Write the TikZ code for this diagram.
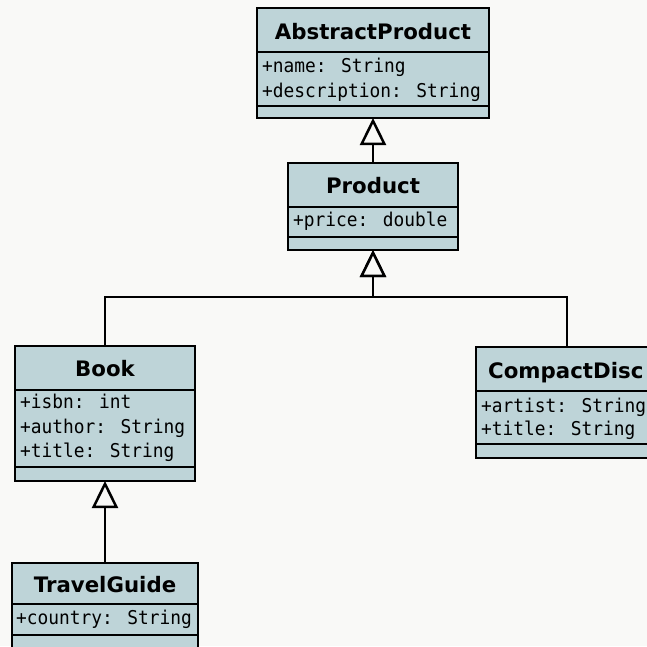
\documentclass[tikz,border=0pt]{standalone}
\usepackage{fontspec}
\setmainfont{DejaVu Sans}
\newfontfamily\attrfont[FakeStretch=0.94]{DejaVu Sans Mono}
\usetikzlibrary{arrows.meta}
\definecolor{classfill}{HTML}{BED4D8}
\definecolor{canvas}{HTML}{F9F9F7}
\tikzset{
  classbox/.style={draw=black, fill=classfill, line width=2.9pt, inner sep=0pt, outer sep=0pt, anchor=north west},
  compsep/.style={draw=black, line width=2.9pt},
  classtitle/.style={font=\fontsize{21.3}{24}\selectfont\bfseries, inner sep=0pt, anchor=base},
  attr/.style={font=\attrfont\fontsize{19}{22}\selectfont, inner sep=0pt, anchor=base west},
  inherit/.style={draw=black, line width=2.5pt, -{Triangle[open, length=27pt, width=26pt, fill=canvas]}},
}
\begin{document}
\begin{tikzpicture}[x=1pt, y=-1pt]
  \useasboundingbox (0,0) rectangle (647,646);
  \fill[canvas] (0,0) rectangle (647,646);
  \clip (0,0) rectangle (647,646);

  % AbstractProduct
  \node[classbox, minimum width=232pt, minimum height=110pt] (abs) at (257,8) {};
  \draw[compsep] (abs.west |- 0,52) -- (abs.east |- 0,52);
  \draw[compsep] (abs.west |- 0,106) -- (abs.east |- 0,106);
  \node[classtitle] (absT) at (373,39) {AbstractProduct};
  \node[attr] (absA1) at (262,72) {+name: String};
  \node[attr] (absA2) at (262,97) {+description: String};

  % Product
  \node[classbox, minimum width=170pt, minimum height=87pt] (prod) at (288,163) {};
  \draw[compsep] (prod.west |- 0,207) -- (prod.east |- 0,207);
  \draw[compsep] (prod.west |- 0,237) -- (prod.east |- 0,237);
  \node[classtitle] (prodT) at (373,193) {Product};
  \node[attr] (prodA1) at (293,226) {+price: double};

  % Book
  \node[classbox, minimum width=180pt, minimum height=135pt] (book) at (15,346) {};
  \draw[compsep] (book.west |- 0,390) -- (book.east |- 0,390);
  \draw[compsep] (book.west |- 0,467) -- (book.east |- 0,467);
  \node[classtitle] (bookT) at (105,376) {Book};
  \node[attr] (bookA1) at (20,408) {+isbn: int};
  \node[attr] (bookA2) at (20,433) {+author: String};
  \node[attr] (bookA3) at (20,457) {+title: String};

  % CompactDisc
  \node[classbox, minimum width=200pt, minimum height=111pt] (cd) at (476,347) {};
  \draw[compsep] (cd.west |- 0,391) -- (cd.east |- 0,391);
  \draw[compsep] (cd.west |- 0,444) -- (cd.east |- 0,444);
  \node[classtitle, anchor=base west] (cdT) at (488,378) {CompactDisc};
  \node[attr] (cdA1) at (481,412) {+artist: String};
  \node[attr] (cdA2) at (481,435) {+title: String};

  % TravelGuide
  \node[classbox, minimum width=186pt, minimum height=110pt] (tg) at (12,563) {};
  \draw[compsep] (tg.west |- 0,604) -- (tg.east |- 0,604);
  \draw[compsep] (tg.west |- 0,635) -- (tg.east |- 0,635);
  \node[classtitle] (tgT) at (105,592) {TravelGuide};
  \node[attr] (tgA1) at (16,624) {+country: String};

  % Generalisations
  \coordinate (junction) at (373,297);
  \draw[inherit] (prod.north) -- (abs.south);
  \draw[inherit] (book.north) |- (junction) -- (prod.south);
  \draw[inherit] (cd.north -| 567,0) |- (junction) -- (prod.south);
  \draw[inherit] (tg.north -| book.south) -- (book.south);
\end{tikzpicture}
\end{document}
